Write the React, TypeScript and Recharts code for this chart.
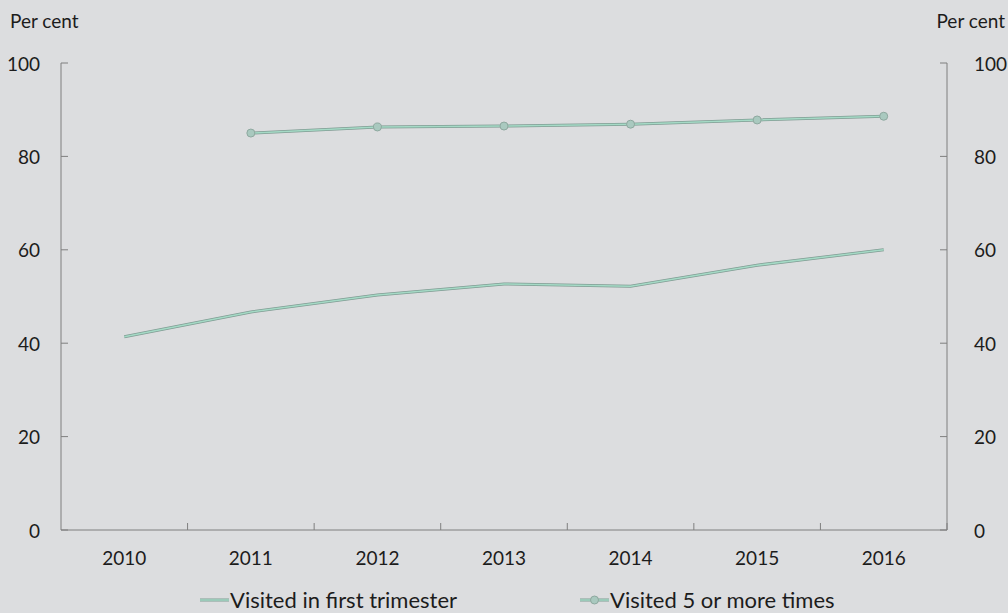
import React from "react";
import {
    LineChart,
    Line,
    XAxis,
    YAxis,
} from "recharts";

// --- Data ---

const YEARS = ["2010", "2011", "2012", "2013", "2014", "2015", "2016"];
const FIRST_TRIMESTER = [41.4, 46.7, 50.3, 52.7, 52.2, 56.7, 60.0];
const FIVE_OR_MORE = [null, 85.0, 86.3, 86.5, 86.9, 87.8, 88.6];
const Y_TICKS = [0, 20, 40, 60, 80, 100];

const SERIES_FIRST = "Visited in first trimester";
const SERIES_FIVE = "Visited 5 or more times";
const UNIT_LABEL = "Per cent";

// --- Constants ---

const WIDTH = 1008;
const HEIGHT = 613;
const BG = "#dcdddf";
const AXIS_COLOR = "#7f7f7f";
const TEXT_COLOR = "#1c1c1c";
const LINE_OUTER = "#7f9c93";
const LINE_INNER = "#a5dac6";
const DOT_FILL = "#a9c9bf";
const DOT_STROKE = "#8ea89f";
const FONT = "Lato, 'Open Sans', sans-serif";
const FONT_SIZE = 19;
const LEGEND_FONT_SIZE = 22;
const AXIS_W = 61;
const PLOT_W = WIDTH - AXIS_W * 2;
const BAND = PLOT_W / YEARS.length;
const TICK_LEN = 7;

const data = YEARS.map((year, i) => ({
    year,
    first: FIRST_TRIMESTER[i],
    five: FIVE_OR_MORE[i],
}));

function YearTick(props: any)
{
    const { x, y, payload } = props;
    return (
        <g>
            <line
                x1={x + BAND / 2}
                x2={x + BAND / 2}
                y1={y}
                y2={y - TICK_LEN}
                stroke={AXIS_COLOR}
                strokeWidth={1}
            />
            <text
                x={x}
                y={y + 27}
                textAnchor="middle"
                dominantBaseline="central"
                fontSize={FONT_SIZE}
                fill={TEXT_COLOR}
                fontFamily={FONT}
            >
                {payload.value}
            </text>
        </g>
    );
}

function LeftTick(props: any)
{
    const { x, y, payload } = props;
    return (
        <g>
            <line x1={x} x2={x + TICK_LEN} y1={y} y2={y} stroke={AXIS_COLOR} />
            <text
                x={x - 21}
                y={y}
                textAnchor="end"
                dominantBaseline="central"
                fontSize={FONT_SIZE}
                fill={TEXT_COLOR}
                fontFamily={FONT}
            >
                {payload.value}
            </text>
        </g>
    );
}

function RightTick(props: any)
{
    const { x, y, payload } = props;
    return (
        <g>
            <line x1={x - TICK_LEN} x2={x} y1={y} y2={y} stroke={AXIS_COLOR} />
            <text
                x={x + 27}
                y={y}
                textAnchor="start"
                dominantBaseline="central"
                fontSize={FONT_SIZE}
                fill={TEXT_COLOR}
                fontFamily={FONT}
            >
                {payload.value}
            </text>
        </g>
    );
}

function LegendIcon({ withDot }: { withDot: boolean })
{
    return (
        <svg width={30} height={10}>
            <line x1={0} x2={29} y1={5} y2={5} stroke={LINE_OUTER} strokeWidth={3} />
            <line x1={0} x2={29} y1={5} y2={5} stroke={LINE_INNER} strokeWidth={1.5} />
            {withDot && <circle cx={14.5} cy={5} r={4} fill={DOT_FILL} stroke={DOT_STROKE} />}
        </svg>
    );
}

export default function App()
{
    const labelStyle: React.CSSProperties = {
        position: "absolute",
        top: 9,
        fontSize: FONT_SIZE,
        color: TEXT_COLOR,
        lineHeight: "24px",
    };
    const legendItem: React.CSSProperties = {
        position: "absolute",
        top: 588,
        display: "flex",
        alignItems: "center",
        fontSize: LEGEND_FONT_SIZE,
        color: TEXT_COLOR,
        lineHeight: "24px",
    };

    return (
        <div
            style={{
                position: "fixed",
                left: 0,
                top: 0,
                width: WIDTH,
                height: HEIGHT,
                background: BG,
                fontFamily: FONT,
                overflow: "hidden",
            }}
        >
            <div style={{ ...labelStyle, left: 10 }}>{UNIT_LABEL}</div>
            <div style={{ ...labelStyle, right: 3 }}>{UNIT_LABEL}</div>
            <LineChart
                width={WIDTH}
                height={HEIGHT}
                data={data}
                margin={{ top: 63, right: 0, left: 0, bottom: 0 }}
            >
                <XAxis
                    dataKey="year"
                    scale="band"
                    height={83}
                    axisLine={{ stroke: AXIS_COLOR }}
                    tickLine={false}
                    tickSize={0}
                    tickMargin={0}
                    tick={<YearTick />}
                    interval={0}
                />
                <YAxis
                    yAxisId="left"
                    orientation="left"
                    width={AXIS_W}
                    domain={[0, 100]}
                    ticks={Y_TICKS}
                    axisLine={{ stroke: AXIS_COLOR }}
                    tickLine={false}
                    tickSize={0}
                    tickMargin={0}
                    tick={<LeftTick />}
                    interval={0}
                />
                <YAxis
                    yAxisId="right"
                    orientation="right"
                    width={AXIS_W}
                    domain={[0, 100]}
                    ticks={Y_TICKS}
                    axisLine={{ stroke: AXIS_COLOR }}
                    tickLine={false}
                    tickSize={0}
                    tickMargin={0}
                    tick={<RightTick />}
                    interval={0}
                />
                <Line
                    yAxisId="right"
                    dataKey="first"
                    stroke={LINE_OUTER}
                    strokeWidth={3}
                    dot={false}
                    isAnimationActive={false}
                />
                <Line
                    yAxisId="right"
                    dataKey="first"
                    name={SERIES_FIRST}
                    stroke={LINE_INNER}
                    strokeWidth={1.5}
                    dot={false}
                    isAnimationActive={false}
                />
                <Line
                    yAxisId="left"
                    dataKey="five"
                    stroke={LINE_OUTER}
                    strokeWidth={3}
                    dot={false}
                    isAnimationActive={false}
                />
                <Line
                    yAxisId="left"
                    dataKey="five"
                    name={SERIES_FIVE}
                    stroke={LINE_INNER}
                    strokeWidth={1.5}
                    dot={{ r: 4, fill: DOT_FILL, stroke: DOT_STROKE, strokeWidth: 1 }}
                    isAnimationActive={false}
                />
            </LineChart>
            <div style={{ ...legendItem, left: 200 }}>
                <LegendIcon withDot={false} />
                <span>{SERIES_FIRST}</span>
            </div>
            <div style={{ ...legendItem, left: 580 }}>
                <LegendIcon withDot={true} />
                <span>{SERIES_FIVE}</span>
            </div>
        </div>
    );
}
